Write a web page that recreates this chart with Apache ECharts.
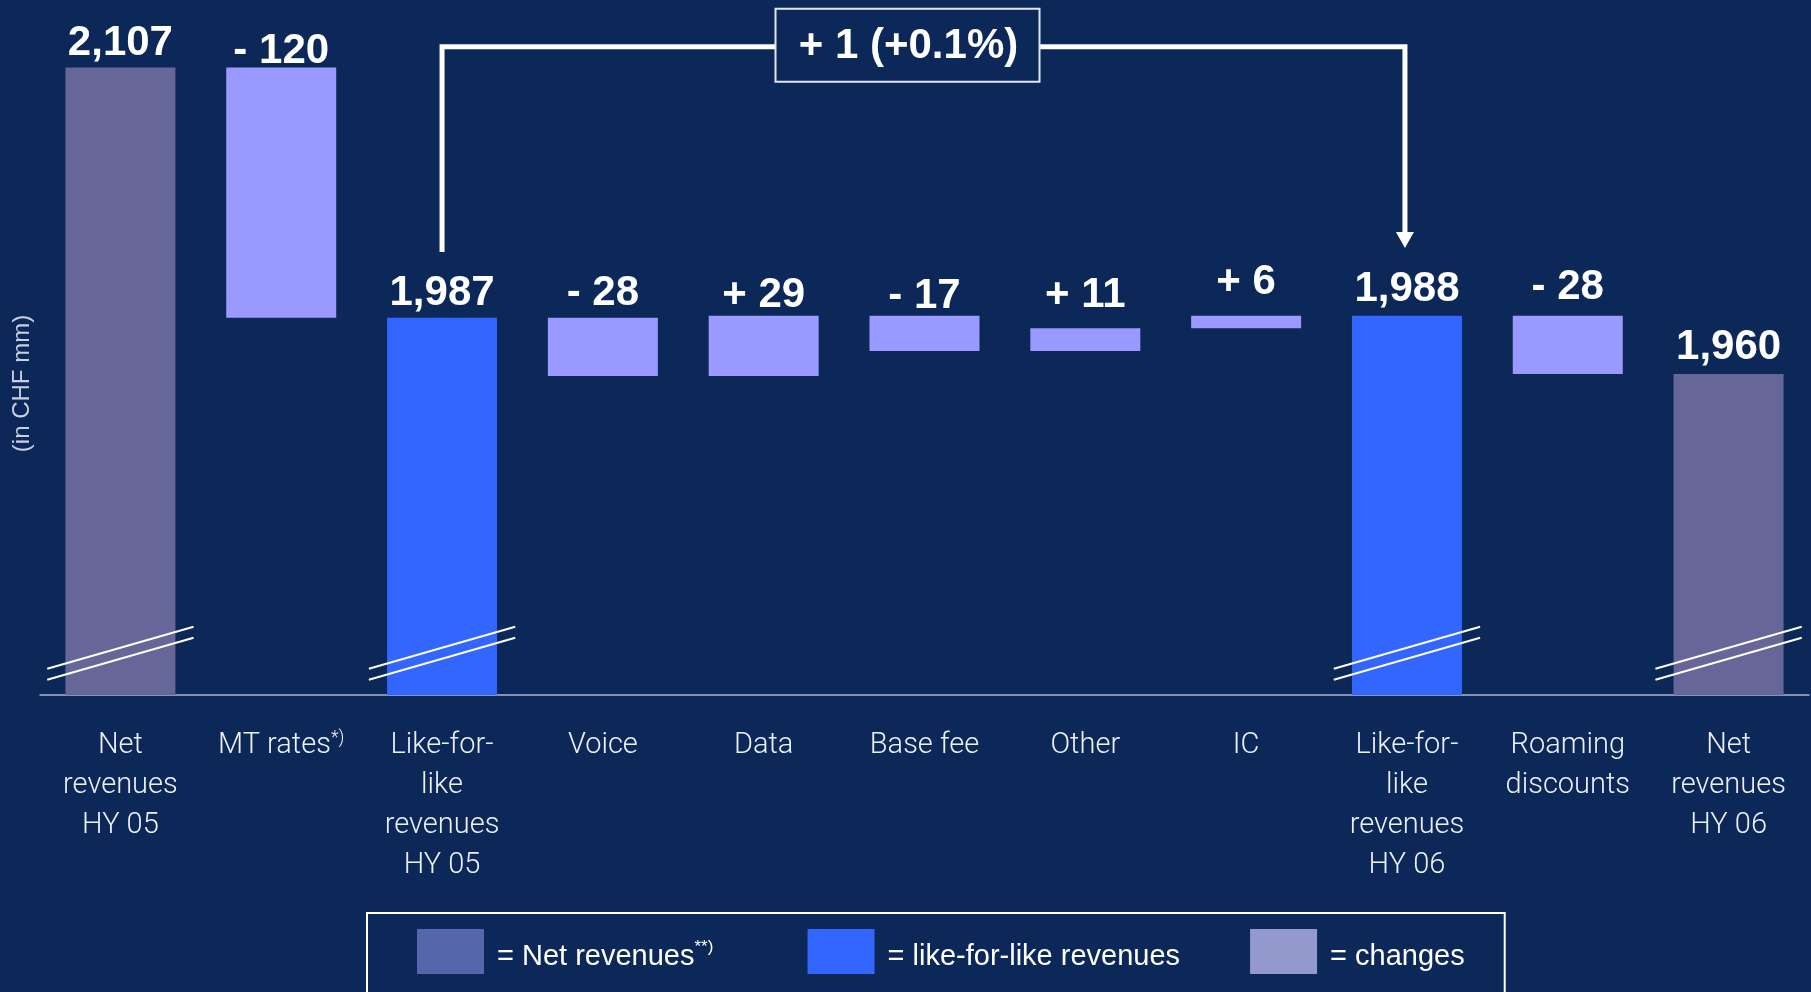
<!DOCTYPE html>
<html>
<head>
<meta charset="utf-8">
<script src="https://cdn.jsdelivr.net/npm/echarts@6/dist/echarts.min.js"></script>
<style>
  html, body { margin: 0; padding: 0; background: #0b2858; }
  #chart { width: 1811px; height: 992px; }
</style>
</head>
<body>
<div id="chart"></div>
<script>
// Revenue bridge, in CHF mm
const categories = [
  'Net\nrevenues\nHY 05', 'MT rates*)', 'Like-for-\nlike\nrevenues\nHY 05',
  'Voice', 'Data', 'Base fee', 'Other', 'IC',
  'Like-for-\nlike\nrevenues\nHY 06', 'Roaming\ndiscounts', 'Net\nrevenues\nHY 06'
];
// totals are absolute values, changes are deltas
const steps = [2107, -120, 1987, -28, 29, -17, 11, 6, 1988, -28, 1960];
const kinds = ['net', 'chg', 'lfl', 'chg', 'chg', 'chg', 'chg', 'chg', 'lfl', 'chg', 'net'];
const seriesNames = { net: 'Net revenues', lfl: 'like-for-like revenues', chg: 'changes' };
// bracket comparing the two like-for-like totals
const bracketFrom = 2, bracketTo = 8;

// label lift above each bar (px)
const labelDistance = [3, -5, 3, 3, -1, -2, 12, 12, 5, 7, 6];

const BG = '#0b2858';
const colors = { net: '#666699', lfl: '#3366ff', chg: '#9999ff' };
const legendColors = { net: '#5566aa', lfl: '#3366ff', chg: '#9399cc' };

const Y_MIN = 1806, Y_MAX = 2126;
const BREAK_AT = 1826;       // axis-break marks on the total bars
const BRACKET_TOP = 2117;    // level of the bracket's horizontal run
const BRACKET_CLEAR = 31.5;  // gap between bar top and bracket ends

function thousands(v) { return String(v).replace(/\B(?=(\d{3})+(?!\d))/g, ','); }
function labelText(i) {
  const v = steps[i];
  if (kinds[i] === 'chg') return (v < 0 ? '- ' : '+ ') + Math.abs(v);
  return thousands(v);
}

// build stacked waterfall arrays
const base = [], stacks = { net: [], lfl: [], chg: [] };
const levels = [];
let running = 0;
steps.forEach((v, i) => {
  const k = kinds[i];
  ['net', 'lfl', 'chg'].forEach(key => stacks[key].push('-'));
  if (k === 'chg') {
    const end = running + v;
    base.push(Math.min(running, end));
    stacks.chg[i] = { value: Math.abs(v), label: { distance: labelDistance[i] } };
    running = end;
  } else {
    base.push(0);
    stacks[k][i] = { value: v, label: { distance: labelDistance[i] } };
    running = v;
  }
  levels.push(running);
});

const barLabel = {
  show: true, position: 'top', color: '#ffffff',
  fontFamily: 'Liberation Sans', fontWeight: 'bold', fontSize: 42,
  formatter: p => labelText(p.dataIndex)
};

function barSeries(key) {
  return {
    name: seriesNames[key], type: 'bar', stack: 'wf', barWidth: '68.4%',
    data: stacks[key], itemStyle: { color: colors[key] },
    label: barLabel, silent: true
  };
}

const diff = levels[bracketTo] - levels[bracketFrom];
const bracketText = (diff >= 0 ? '+ ' : '- ') + Math.abs(diff) +
  ' (' + (diff >= 0 ? '+' : '-') + Math.abs(diff / levels[bracketFrom] * 100).toFixed(1) + '%)';

const chart = echarts.init(document.getElementById('chart'), null, { renderer: 'canvas' });

chart.setOption({
  backgroundColor: BG,
  animation: false,
  grid: { left: 40, right: 2, top: 28, bottom: 297 },
  xAxis: {
    type: 'category', data: categories,
    axisLine: { lineStyle: { color: '#aeb6d2', width: 1.5 } },
    axisTick: { show: false },
    axisLabel: {
      interval: 0, margin: 31, color: '#edf0f7',
      fontFamily: 'Roboto', fontWeight: 300, fontSize: 29, lineHeight: 40,
      formatter: v => v.replace('*)', '{sup|*)}'),
      rich: { sup: { fontFamily: 'Roboto', fontWeight: 300, fontSize: 18, color: '#edf0f7', padding: [0, 0, 16, 0] } }
    }
  },
  yAxis: {
    type: 'value', min: Y_MIN, max: Y_MAX,
    name: '(in CHF mm)', nameLocation: 'middle', nameGap: 6,
    nameTextStyle: { color: '#c9cfe0', fontFamily: 'Liberation Sans', fontSize: 24, padding: [0, 44, 0, 0] },
    axisLine: { show: false }, axisTick: { show: false },
    axisLabel: { show: false }, splitLine: { show: false }
  },
  legend: {
    left: 367, top: 913,
    padding: [16, 40, 40, 50],
    itemWidth: 67, itemHeight: 45, itemGap: 70,
    icon: 'rect', selectedMode: false,
    borderColor: '#ffffff', borderWidth: 2,
    data: ['net', 'lfl', 'chg'].map(k => ({ name: seriesNames[k], itemStyle: { color: legendColors[k] } })),
    formatter: name => name === seriesNames.net ? '= ' + name + '{sup|**)}{gap|\u00a0\u00a0\u00a0}' : '= ' + name,
    textStyle: {
      color: '#ffffff', fontFamily: 'Liberation Sans', fontSize: 29, padding: [10, 0, 0, 8],
      rich: {
        sup: { color: '#ffffff', fontFamily: 'Liberation Sans', fontSize: 17, padding: [0, 0, 18, 0] },
        gap: { fontFamily: 'Liberation Sans', fontSize: 29 }
      }
    }
  },
  series: [
    { name: 'base', type: 'bar', stack: 'wf', barWidth: '68.4%', data: base,
      itemStyle: { color: 'transparent' }, silent: true },
    barSeries('net'),
    barSeries('lfl'),
    barSeries('chg'),
    {
      // double-slash axis-break marks across the total bars
      type: 'custom', silent: true, z: 5,
      data: kinds.map((k, i) => k === 'chg' ? null : [i, BREAK_AT]).filter(Boolean),
      encode: { x: 0, y: 1 },
      renderItem: (params, api) => {
        const c = api.coord([api.value(0), api.value(1)]);
        const half = api.size([1, 0])[0] * 0.455;
        const rise = 21;
        const mk = dy => ({
          type: 'line',
          shape: { x1: c[0] - half, y1: c[1] + dy + rise, x2: c[0] + half, y2: c[1] + dy - rise },
          style: { stroke: '#ffffff', lineWidth: 2 }
        });
        return { type: 'group', children: [mk(-5.5), mk(5.5)] };
      }
    },
    {
      // bracket with arrow linking the two like-for-like totals
      type: 'custom', silent: true, z: 6,
      data: [[bracketFrom, bracketTo]],
      encode: { x: [0, 1] },
      renderItem: (params, api) => {
        const a = api.value(0), b = api.value(1);
        const pL = api.coord([a, levels[a] + BRACKET_CLEAR]);
        const pTop = api.coord([a, BRACKET_TOP]);
        const pR = api.coord([b, levels[b] + BRACKET_CLEAR + 1]);
        const xL = pL[0], xR = pR[0] - 2, yT = pTop[1];
        const boxW = 264, boxH = 73;
        const cx = (xL + xR) / 2 - 16, cy = yT - 1.5;
        const headH = 16, headW = 9;
        const lineStyle = { stroke: '#ffffff', lineWidth: 5, fill: null, lineJoin: 'miter' };
        return {
          type: 'group',
          children: [
            { type: 'polyline', shape: { points: [[xL, pL[1]], [xL, yT], [cx - boxW / 2, yT]] }, style: lineStyle },
            { type: 'polyline', shape: { points: [[cx + boxW / 2, yT], [xR, yT], [xR, pR[1] - headH]] }, style: lineStyle },
            { type: 'polygon', shape: { points: [[xR - headW, pR[1] - headH], [xR + headW, pR[1] - headH], [xR, pR[1]]] },
              style: { fill: '#ffffff' } },
            { type: 'rect', shape: { x: cx - boxW / 2, y: cy - boxH / 2, width: boxW, height: boxH },
              style: { fill: BG, stroke: '#e2e6f2', lineWidth: 2 } },
            { type: 'text', x: cx + 1, y: yT,
              style: { text: bracketText, fill: '#ffffff', font: 'bold 42px "Liberation Sans"',
                       align: 'center', verticalAlign: 'middle' } }
          ]
        };
      }
    }
  ]
});
</script>
</body>
</html>
